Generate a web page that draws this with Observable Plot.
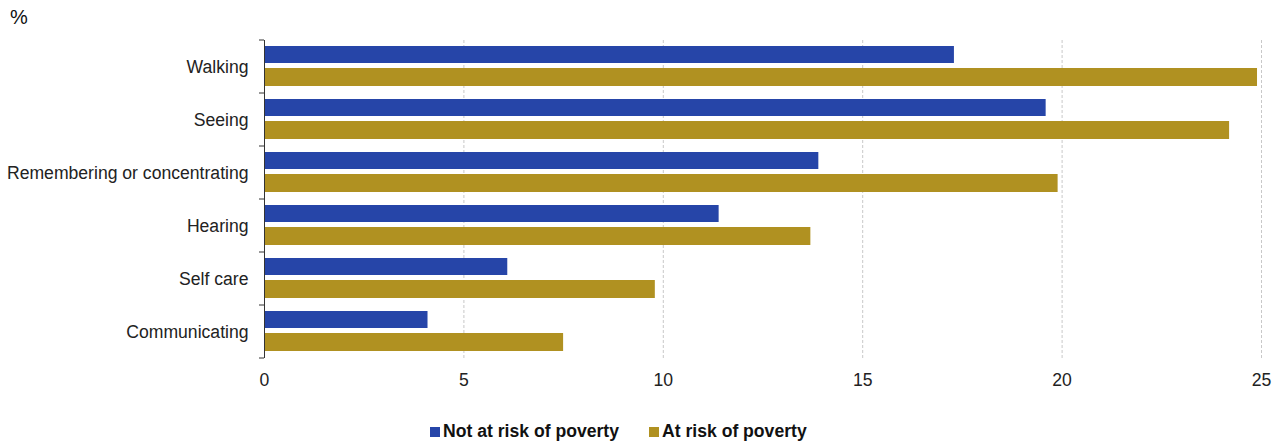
<!DOCTYPE html>
<html>
<head>
<meta charset="utf-8">
<script src="https://cdn.jsdelivr.net/npm/d3@7"></script>
<script src="https://cdn.jsdelivr.net/npm/@observablehq/plot@0.6"></script>
<style>
  body { margin: 0; background: #fff; font-family: "Liberation Sans", Arial, sans-serif; width: 1274px; height: 441px; overflow: hidden; position: relative; }
  #unit { position: absolute; left: 10px; top: 6px; font-size: 20px; color: #111; }
  #chart { position: absolute; left: 0; top: 30px; }
  #legend { position: absolute; left: 430px; top: 421px; display: flex; gap: 30px; font-weight: bold; font-size: 17.6px; color: #111; }
  #legend .item { display: flex; align-items: center; gap: 3px; }
  #legend .sw { width: 10px; height: 10px; display: inline-block; }
</style>
</head>
<body>
<div id="unit">%</div>
<div id="chart"></div>
<div id="legend"></div>
<script>
const categories = ["Walking", "Seeing", "Remembering or concentrating", "Hearing", "Self care", "Communicating"];
const notAtRisk = [17.3, 19.6, 13.9, 11.4, 6.1, 4.1];
const atRisk = [24.9, 24.2, 19.9, 13.7, 9.8, 7.5];
const seriesNames = ["Not at risk of poverty", "At risk of poverty"];
const seriesColors = ["#2645A8", "#B09121"];
const xTicks = [0, 5, 10, 15, 20, 25];

const blueData = categories.map((c, i) => ({category: c, value: notAtRisk[i]}));
const goldData = categories.map((c, i) => ({category: c, value: atRisk[i]}));

function boundaryTicks(index, scales, values, dimensions) {
  const g = d3.create("svg:g");
  const x0 = scales.x(0);
  const ys = categories.map(c => scales.y(c));
  ys.push(dimensions.height - dimensions.marginBottom);
  for (const y of ys) {
    g.append("line").attr("x1", x0 - 5).attr("x2", x0).attr("y1", y).attr("y2", y)
      .attr("stroke", "#333").attr("stroke-width", 1);
  }
  return g.node();
}

const chart = Plot.plot({
  width: 1274,
  height: 370,
  marginLeft: 264,
  marginRight: 13,
  marginTop: 10,
  marginBottom: 42,
  style: {fontFamily: "Liberation Sans, Arial, sans-serif", fontSize: "17.6px", color: "#222", background: "#fff"},
  x: {domain: [0, 25], ticks: xTicks},
  y: {domain: categories, padding: 0},
  marks: [
    Plot.gridX(xTicks.filter(t => t > 0), {stroke: "#c8c8c8", strokeOpacity: 1, strokeDasharray: "3,2"}),
    Plot.barX(blueData, {y: "category", x: "value", fill: seriesColors[0], insetTop: 6, insetBottom: 30}),
    Plot.barX(goldData, {y: "category", x: "value", fill: seriesColors[1], insetTop: 28, insetBottom: 7}),
    Plot.ruleX([0], {stroke: "#333"}),
    boundaryTicks,
    Plot.axisY({tickSize: 0, tickPadding: 16, label: null, fontSize: 17.6}),
    Plot.axisX({ticks: xTicks, tickSize: 0, tickPadding: 15, label: null, fontSize: 17.6})
  ]
});
document.getElementById("chart").appendChild(chart);

const legend = document.getElementById("legend");
seriesNames.forEach((name, i) => {
  const item = document.createElement("span");
  item.className = "item";
  const sw = document.createElement("span");
  sw.className = "sw";
  sw.style.background = seriesColors[i];
  item.appendChild(sw);
  item.appendChild(document.createTextNode(name));
  legend.appendChild(item);
});
</script>
</body>
</html>
